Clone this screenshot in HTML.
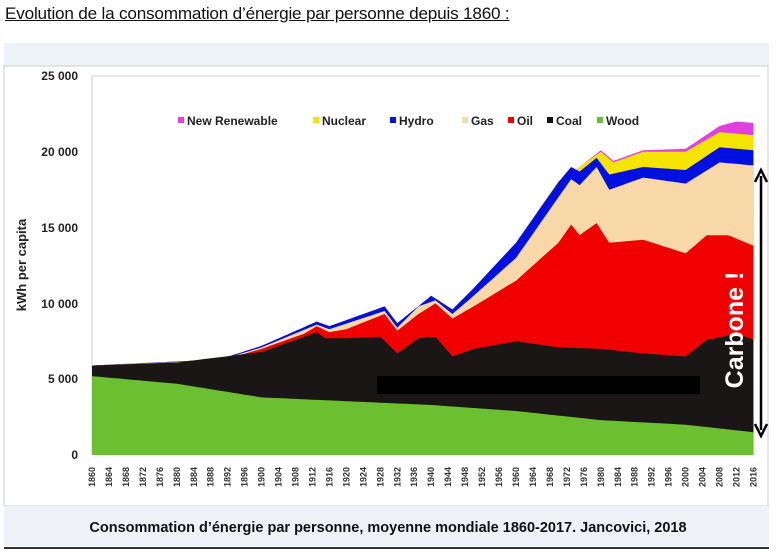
<!DOCTYPE html>
<html><head><meta charset="utf-8"><style>
body{margin:0;width:776px;height:555px;background:#fff;font-family:"Liberation Sans",sans-serif;overflow:hidden;position:relative}
.t{position:absolute;left:5px;top:5px;font-size:16.5px;text-decoration:underline;color:#111;font-family:"Liberation Sans",sans-serif;letter-spacing:-0.2px;transform:scaleX(1.04);transform-origin:left}
</style></head><body>
<div class="t">Evolution de la consommation d’énergie par personne depuis 1860 :</div>
<svg id="s" width="776" height="555" style="position:absolute;left:0;top:0" xmlns="http://www.w3.org/2000/svg">
<rect x="4" y="43" width="765" height="24" fill="#eef3f8"/>
<rect x="4" y="66" width="764" height="440" fill="#fff" stroke="#c8ccd0"/>
<rect x="4" y="506" width="765" height="40" fill="#eef2f7"/>
<line x1="4" y1="548" x2="769" y2="548" stroke="#333" stroke-width="2"/>
<text x="388" y="532" font-size="14.5" font-weight="bold" text-anchor="middle" fill="#111">Consommation d’énergie par personne, moyenne mondiale 1860-2017. Jancovici, 2018</text>
<line x1="92" y1="76" x2="760" y2="76" stroke="#ccc"/>
<line x1="92" y1="76" x2="92" y2="455" stroke="#ccc"/>
<g font-size="12" font-weight="bold" fill="#222" text-anchor="end">
<text x="78" y="80">25 000</text><text x="78" y="156">20 000</text><text x="78" y="232">15 000</text><text x="78" y="308">10 000</text><text x="78" y="383">5 000</text><text x="78" y="459">0</text>
</g>
<text transform="translate(26,265) rotate(-90)" font-size="13" font-weight="bold" text-anchor="middle" fill="#222">kWh per capita</text>
<g id="layers"></g>
<g id="ticks" font-size="9" font-weight="bold" fill="#333"></g>
<rect x="377" y="376" width="323" height="18" fill="#000"/>
<line x1="761" y1="176" x2="761" y2="430" stroke="#000" stroke-width="2.5"/>
<path d="M755,182 L761,170 L767,182" fill="none" stroke="#000" stroke-width="2.5"/>
<path d="M755,424 L761,436 L767,424" fill="none" stroke="#000" stroke-width="2.5"/>
<text transform="translate(743,330) rotate(-90)" font-size="25" font-weight="bold" text-anchor="middle" fill="#fff">Carbone !</text>
<g font-size="12" font-weight="bold" fill="#222">
<rect x="178" y="117" width="6" height="6" fill="#e040e0"/><text x="187" y="125">New Renewable</text>
<rect x="313" y="117" width="6" height="6" fill="#f5e400"/><text x="322" y="125">Nuclear</text>
<rect x="390" y="117" width="6" height="6" fill="#0010e0"/><text x="399" y="125">Hydro</text>
<rect x="462" y="117" width="6" height="6" fill="#f8d8a8"/><text x="471" y="125">Gas</text>
<rect x="508" y="117" width="6" height="6" fill="#f00000"/><text x="517" y="125">Oil</text>
<rect x="547" y="117" width="6" height="6" fill="#111"/><text x="556" y="125">Coal</text>
<rect x="597" y="117" width="6" height="6" fill="#6cbf30"/><text x="606" y="125">Wood</text>
</g>
</svg>
<script>
var X=function(y){return 92+(y-1860)*4.24},Y=function(v){return 455-v*0.01516};
function interp(pts,y){if(y<=pts[0][0])return pts[0][1];for(var i=1;i<pts.length;i++){if(y<=pts[i][0]){var a=pts[i-1],b=pts[i];return a[1]+(b[1]-a[1])*(y-a[0])/(b[0]-a[0]);}}return pts[pts.length-1][1];}
var wood=[[1860,5200],[1880,4700],[1900,3800],[1940,3300],[1960,2900],[1980,2300],[2000,2000],[2016,1500]];
var coal=[[1860,5900],[1880,6100],[1900,6800],[1910,7800],[1913,8100],[1915,7700],[1920,7700],[1928,7800],[1932,6700],[1937,7700],[1941,7800],[1945,6500],[1950,7000],[1960,7500],[1970,7100],[1980,7000],[1990,6700],[2000,6500],[2005,7600],[2012,8000],[2016,7600]];
var oil=[[1860,5900],[1890,6200],[1900,7000],[1910,8000],[1913,8500],[1916,8100],[1920,8300],[1929,9300],[1932,8200],[1937,9300],[1941,10000],[1945,9000],[1950,9800],[1960,11500],[1970,14000],[1973,15200],[1975,14500],[1979,15300],[1982,14000],[1990,14200],[2000,13300],[2005,14500],[2010,14500],[2016,13800]];
var gas=[[1860,5900],[1890,6250],[1900,7100],[1913,8600],[1916,8300],[1929,9500],[1932,8400],[1937,9800],[1941,10200],[1945,9300],[1950,10500],[1960,13000],[1970,17000],[1973,18200],[1975,17800],[1979,19000],[1982,17500],[1990,18300],[2000,17900],[2008,19300],[2016,19100]];
var hydro=[[1860,5900],[1890,6300],[1900,7200],[1913,8800],[1916,8500],[1929,9800],[1932,8700],[1940,10500],[1945,9600],[1950,11000],[1960,14000],[1970,18000],[1973,19000],[1975,18700],[1979,19600],[1982,18500],[1990,19000],[2000,18800],[2008,20300],[2016,20100]];
var nuc=[[1860,5900],[1890,6300],[1900,7200],[1913,8800],[1916,8500],[1929,9800],[1932,8700],[1940,10500],[1945,9600],[1950,11000],[1960,14000],[1970,18050],[1975,19000],[1980,20000],[1983,19300],[1990,20000],[2000,20000],[2008,21300],[2016,21100]];
var ren=[[1860,5900],[1890,6300],[1900,7200],[1913,8800],[1916,8500],[1929,9800],[1932,8700],[1940,10500],[1945,9600],[1950,11000],[1960,14000],[1970,18050],[1975,19000],[1980,20100],[1983,19400],[1990,20100],[2000,20200],[2008,21700],[2012,22000],[2016,21900]];
var L=[[ren,"#e040e0"],[nuc,"#f5e400"],[hydro,"#0010e0"],[gas,"#f8d8a8"],[oil,"#f00000"],[coal,"#1a1616"],[wood,"#6cbf30"]];
var g=document.getElementById("layers"),h="";
L.forEach(function(l){var d="M"+X(1860)+","+Y(0);for(var y=1860;y<=2016;y++){d+=" L"+X(y).toFixed(1)+","+Y(interp(l[0],y)).toFixed(1);}d+=" L"+X(2016)+","+Y(0)+"Z";h+='<path d="'+d+'" fill="'+l[1]+'"/>';});
g.innerHTML=h;
var t="";for(var y=1860;y<=2016;y+=4){var x=X(y)+3;t+='<text transform="translate('+x.toFixed(1)+',487) rotate(-90)">'+y+'</text>';}
document.getElementById("ticks").innerHTML=t;
</script>
</body></html>
